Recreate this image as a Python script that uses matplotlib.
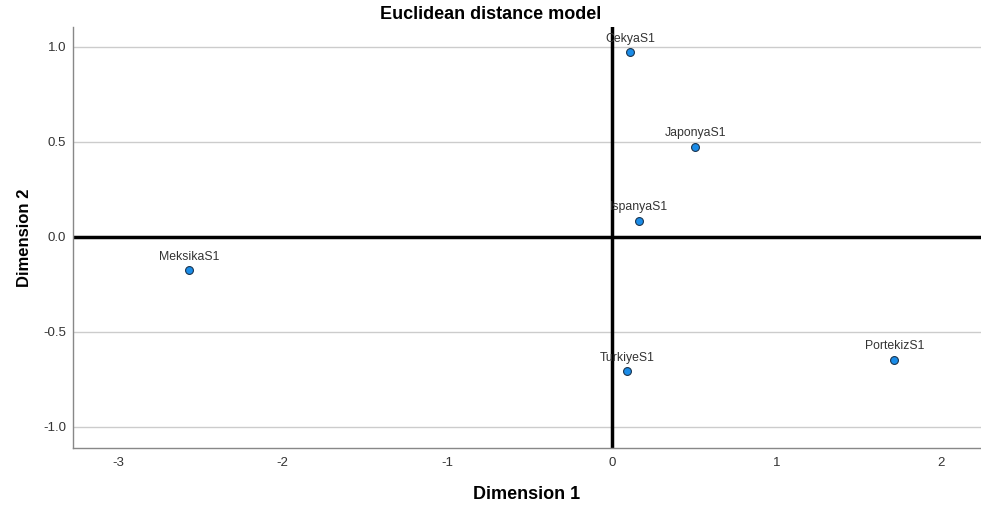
import matplotlib
matplotlib.use('Agg')
import matplotlib.pyplot as plt

plt.rcParams['font.family'] = ['Liberation Sans', 'DejaVu Sans']

# Stimulus coordinates.
names = ['CekyaS1', 'JaponyaS1', 'IspanyaS1', 'MeksikaS1', 'TurkiyeS1', 'PortekizS1']
dim1 = [0.113, 0.507, 0.166, -2.570, 0.094, 1.716]
dim2 = [0.971, 0.472, 0.082, -0.177, -0.708, -0.650]

x_ticks = [-3, -2, -1, 0, 1, 2]
y_ticks = [-1.0, -0.5, 0.0, 0.5, 1.0]

fig = plt.figure(figsize=(9.81, 5.05), dpi=100)
ax = fig.add_axes([0.0744, 0.1135, 0.9256, 0.833])

ax.set_xlim(-3.273, 2.243)
ax.set_ylim(-1.111, 1.104)
ax.set_xticks(x_ticks)
ax.set_yticks(y_ticks)
ax.set_xticklabels([str(t) for t in x_ticks])
ax.set_yticklabels([f'{t:.1f}' for t in y_ticks])
ax.tick_params(length=0, labelsize=9.5, colors='#333333')
ax.tick_params(axis='y', pad=5)
ax.tick_params(axis='x', pad=7)

for s in ['top', 'right']:
    ax.spines[s].set_visible(False)
for s in ['left', 'bottom']:
    ax.spines[s].set_color('#888888')
    ax.spines[s].set_linewidth(1)

ax.grid(axis='y', color='#cccccc', linewidth=1)
ax.set_axisbelow(True)
ax.axhline(0, color='black', linewidth=2.5, zorder=2)
ax.axvline(0, color='black', linewidth=2.5, zorder=2)

ax.scatter(dim1, dim2, s=32, color='#1a8ce8', edgecolor='#1a3550',
           linewidth=0.8, zorder=3)
for n, x, y in zip(names, dim1, dim2):
    ax.annotate(n, (x, y), xytext=(0, 5.5), textcoords='offset points',
                ha='center', va='bottom', fontsize=8.8, color='#333333')

fig.text(0.5, 0.962, 'Euclidean distance model', fontsize=13,
         fontweight='bold', ha='center', va='baseline')
ax.set_xlabel('Dimension 1', fontsize=13, fontweight='bold', labelpad=12)
ax.set_ylabel('Dimension 2', fontsize=12, fontweight='bold', labelpad=8)

fig.savefig('out.png', dpi=100)
